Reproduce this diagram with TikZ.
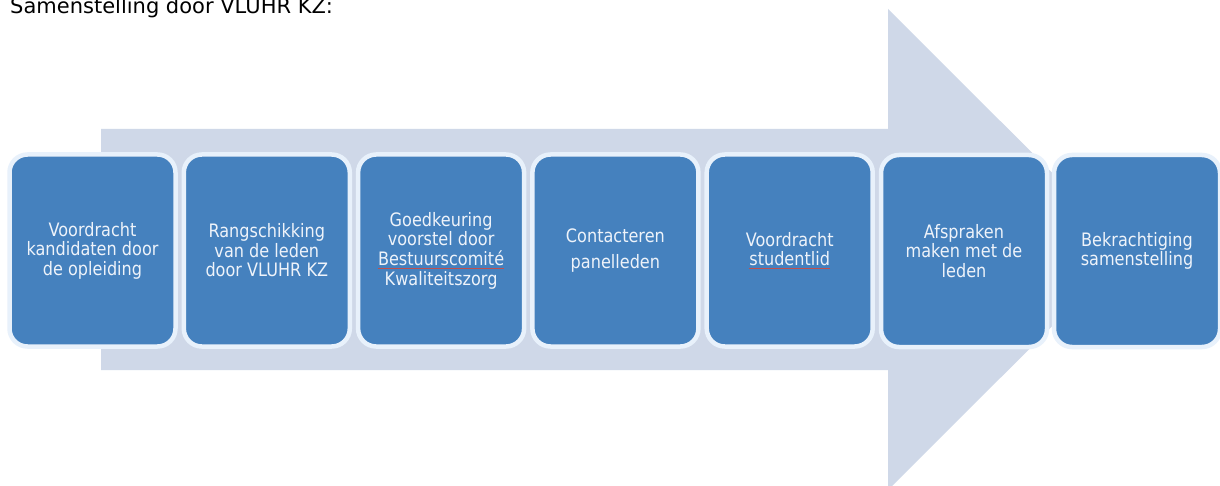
\documentclass[tikz,border=0pt]{standalone}
\usepackage{fontspec}
\setmainfont{DejaVu Sans}
\newfontfamily\stepfont{DejaVu Sans}[FakeStretch=0.87]
\definecolor{boxblue}{HTML}{4581BE}
\definecolor{arrowgrey}{HTML}{CFD8E8}
\definecolor{boxrim}{HTML}{E8F1FB}
\definecolor{boxtext}{HTML}{EEF3FA}
\definecolor{splred}{HTML}{C0504D}
\newcommand\splmark[1]{\setbox0\hbox{#1}\rlap{\color{splred}\raisebox{-3pt}{\rule{\wd0}{0.7pt}}}\box0}
\tikzset{
  stepbox/.style={draw=boxrim, line width=4.5pt, fill=boxblue, rounded corners=18pt,
    minimum width=166pt, minimum height=192pt, inner sep=2pt, align=center,
    text=boxtext, font=\stepfont\fontsize{18.5}{19.6}\selectfont},
  bigarrow/.style={fill=arrowgrey, draw=none}
}
\begin{document}
\begin{tikzpicture}[x=1pt,y=-1pt]
\useasboundingbox (0,0) rectangle (1220,486);
\fill[white] (0,0) rectangle (1220,486);
% big background arrow
\fill[bigarrow] (101,129) -- (888,129) -- (888,9) -- (1129,249.5) -- (888,490) -- (888,370) -- (101,370) -- cycle;
% heading
\node[anchor=base west, inner sep=0, font=\fontsize{21}{24}\selectfont] (title) at (10,14) {Samenstelling door VLUHR KZ:};
% steps
\node[stepbox] (s1) at (92.5,250.5) {Voordracht\\kandidaten door\\de opleiding};
\node[stepbox] (s2) at (266.8,250.5) {Rangschikking\\van de leden\\door VLUHR KZ};
\node[stepbox] (s3) at (441.1,250.5) {Goedkeuring\\voorstel door\\\splmark{Bestuurscomité}\\Kwaliteitszorg};
\node[stepbox] (s4) at (615.4,250.5) {Contacteren\\[7pt]panelleden};
\node[stepbox] (s5) at (789.7,250.5) {Voordracht\\\splmark{studentlid}};
\node[stepbox] (s6) at (964,251) {Afspraken\\maken met de\\leden};
\node[stepbox] (s7) at (1137,251) {Bekrachtiging\\samenstelling};
\end{tikzpicture}
\end{document}
